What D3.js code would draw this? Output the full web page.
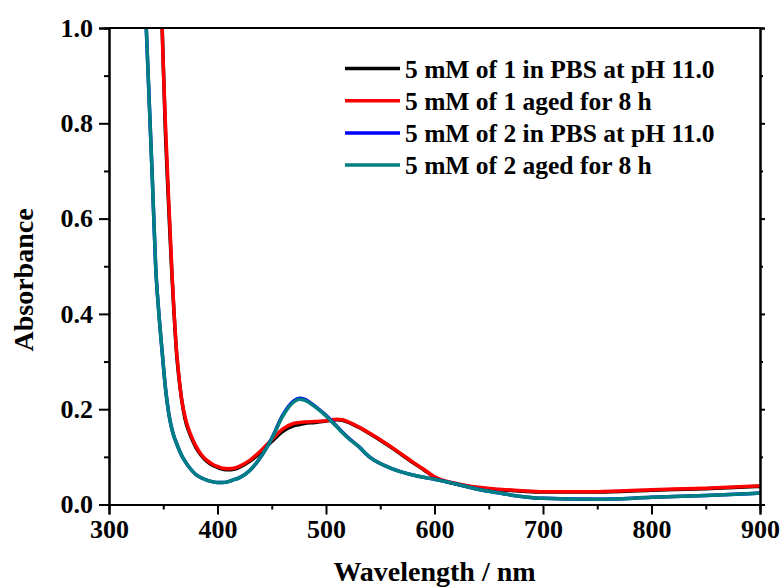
<!DOCTYPE html>
<head>
    <meta charset="utf-8" />
    <script src="https://d3js.org/d3.v7.min.js"></script>
    <style>
        body { margin: 0; background: #fff; }
        text { font-family: "Liberation Serif", "Times New Roman", serif; font-weight: bold; fill: #000; }
    </style>
    <title>Absorbance</title>
</head>
<body>
<script>
    // data
    var wl = [334, 337, 340, 343, 346, 349, 352, 355, 358, 360, 362, 364, 367, 370, 375, 380, 385, 390, 395, 400,
              405, 410, 415, 420, 430, 440, 450, 460, 470, 476, 480, 490, 500, 510, 515, 520, 530, 540, 550, 560,
              570, 580, 590, 600, 620, 640, 660, 680, 700, 750, 800, 850, 900];

    var abs1 = [2.0, 1.9, 1.8, 1.6, 1.35, 1.0, 0.78, 0.625, 0.48, 0.40, 0.325, 0.275, 0.22, 0.18, 0.145, 0.12, 0.103, 0.091, 0.083, 0.078,
                0.074, 0.073, 0.074, 0.078, 0.091, 0.110, 0.132, 0.153, 0.165, 0.168, 0.170, 0.172, 0.175, 0.178, 0.177, 0.173, 0.162, 0.149, 0.135, 0.120,
                0.104, 0.088, 0.073, 0.057, 0.043, 0.035, 0.031, 0.028, 0.026, 0.026, 0.030, 0.033, 0.038];
    var abs1aged = [2.0, 1.9, 1.8, 1.6, 1.35, 1.0, 0.80, 0.64, 0.49, 0.40, 0.33, 0.28, 0.22, 0.185, 0.148, 0.123, 0.105, 0.093, 0.085, 0.080,
                    0.076, 0.075, 0.076, 0.080, 0.093, 0.113, 0.136, 0.158, 0.170, 0.172, 0.173, 0.174, 0.176, 0.179, 0.178, 0.174, 0.163, 0.150, 0.136, 0.121,
                    0.105, 0.089, 0.074, 0.058, 0.044, 0.036, 0.032, 0.029, 0.027, 0.027, 0.031, 0.034, 0.039];
    var abs2 = [1.02, 0.85, 0.68, 0.50, 0.40, 0.32, 0.245, 0.192, 0.158, 0.142, 0.130, 0.118, 0.103, 0.091, 0.075, 0.063, 0.056, 0.051, 0.048, 0.046,
                0.046, 0.048, 0.052, 0.056, 0.072, 0.100, 0.139, 0.187, 0.217, 0.223, 0.221, 0.206, 0.187, 0.164, 0.152, 0.141, 0.122, 0.100, 0.086, 0.076,
                0.068, 0.062, 0.057, 0.053, 0.043, 0.032, 0.024, 0.017, 0.013, 0.011, 0.015, 0.019, 0.024];
    var abs2aged = [1.02, 0.85, 0.68, 0.50, 0.40, 0.32, 0.245, 0.192, 0.158, 0.142, 0.130, 0.118, 0.103, 0.091, 0.075, 0.063, 0.056, 0.051, 0.048, 0.046,
                    0.046, 0.048, 0.052, 0.056, 0.072, 0.100, 0.138, 0.185, 0.215, 0.221, 0.219, 0.205, 0.186, 0.163, 0.151, 0.140, 0.122, 0.100, 0.086, 0.076,
                    0.068, 0.062, 0.057, 0.053, 0.043, 0.032, 0.024, 0.017, 0.013, 0.011, 0.015, 0.019, 0.024];

    var labels = ["5 mM of 1 in PBS at pH 11.0", "5 mM of 1 aged for 8 h",
                  "5 mM of 2 in PBS at pH 11.0", "5 mM of 2 aged for 8 h"];
    var colors = ["#000000", "#ff0000", "#0000ff", "#008080"];
    var allSeries = [abs1, abs1aged, abs2, abs2aged];

    var xMajor = [300, 400, 500, 600, 700, 800, 900];
    var xMinor = [350, 450, 550, 650, 750, 850];
    var yMajor = [0.0, 0.2, 0.4, 0.6, 0.8, 1.0];
    var yMinor = [0.1, 0.3, 0.5, 0.7, 0.9];

    var width = 783, height = 587;
    var plotLeft = 109, plotRight = 760, plotTop = 28, plotBottom = 504.5;

    var svg = d3.select("body").append("svg")
        .attr("width", width)
        .attr("height", height);

    var x = d3.scaleLinear().domain([300, 900]).range([plotLeft, plotRight]);
    var y = d3.scaleLinear().domain([0, 1]).range([plotBottom, plotTop]);

    svg.append("clipPath").attr("id", "plot")
        .append("rect")
        .attr("x", plotLeft).attr("y", plotTop)
        .attr("width", plotRight - plotLeft).attr("height", plotBottom - plotTop);

    // curves
    var line = d3.line()
        .x((d, i) => x(wl[i]))
        .y(d => y(d))
        .curve(d3.curveMonotoneX);

    var g = svg.append("g").attr("clip-path", "url(#plot)");
    allSeries.forEach(function (s, k) {
        g.append("path")
            .datum(s)
            .attr("d", line)
            .attr("fill", "none")
            .attr("stroke", colors[k])
            .attr("stroke-width", 3.5)
            .attr("stroke-linejoin", "round");
    });

    // axes
    svg.append("g").attr("transform", "translate(0," + plotBottom + ")")
        .call(d3.axisBottom(x).tickValues(xMajor).tickSize(10).tickPadding(5).tickFormat(d3.format("d")));
    svg.append("g").attr("transform", "translate(0," + plotBottom + ")")
        .call(d3.axisBottom(x).tickValues(xMinor).tickSize(5).tickFormat(""));

    svg.append("g").attr("transform", "translate(" + plotLeft + ",0)")
        .call(d3.axisLeft(y).tickValues(yMajor).tickSize(10).tickPadding(6).tickFormat(d3.format(".1f")));
    svg.append("g").attr("transform", "translate(" + plotLeft + ",0)")
        .call(d3.axisLeft(y).tickValues(yMinor).tickSize(5).tickFormat(""));

    svg.append("g").attr("transform", "translate(" + plotRight + ",0)")
        .call(d3.axisRight(y).tickValues(yMajor).tickSize(5).tickFormat(""));
    svg.append("g").attr("transform", "translate(" + plotRight + ",0)")
        .call(d3.axisRight(y).tickValues(yMinor).tickSize(3).tickFormat(""));

    svg.append("line")
        .attr("x1", plotLeft).attr("x2", plotRight)
        .attr("y1", plotTop).attr("y2", plotTop)
        .attr("stroke", "#000").attr("stroke-width", 2);

    svg.selectAll(".domain").attr("stroke", "#000").attr("stroke-width", 2);
    svg.selectAll(".tick line").attr("stroke", "#000").attr("stroke-width", 2);
    svg.selectAll(".tick text")
        .style("font-family", "'Liberation Serif', serif")
        .style("font-weight", "bold")
        .style("font-size", "26px");

    // axis titles
    svg.append("text")
        .attr("x", (plotLeft + plotRight) / 2)
        .attr("y", 581)
        .attr("text-anchor", "middle")
        .style("font-size", "28px")
        .text("Wavelength / nm");

    svg.append("text")
        .attr("transform", "translate(33,280) rotate(-90)")
        .attr("text-anchor", "middle")
        .style("font-size", "28px")
        .text("Absorbance");

    // legend
    var legend = svg.append("g");
    labels.forEach(function (lab, k) {
        var ly = 68.5 + k * 32.2;
        legend.append("line")
            .attr("x1", 345).attr("x2", 400)
            .attr("y1", ly).attr("y2", ly)
            .attr("stroke", colors[k]).attr("stroke-width", 3.5);
        legend.append("text")
            .attr("x", 405)
            .attr("y", ly + 9)
            .style("font-size", "25.5px")
            .text(lab);
    });
</script>
</body>
